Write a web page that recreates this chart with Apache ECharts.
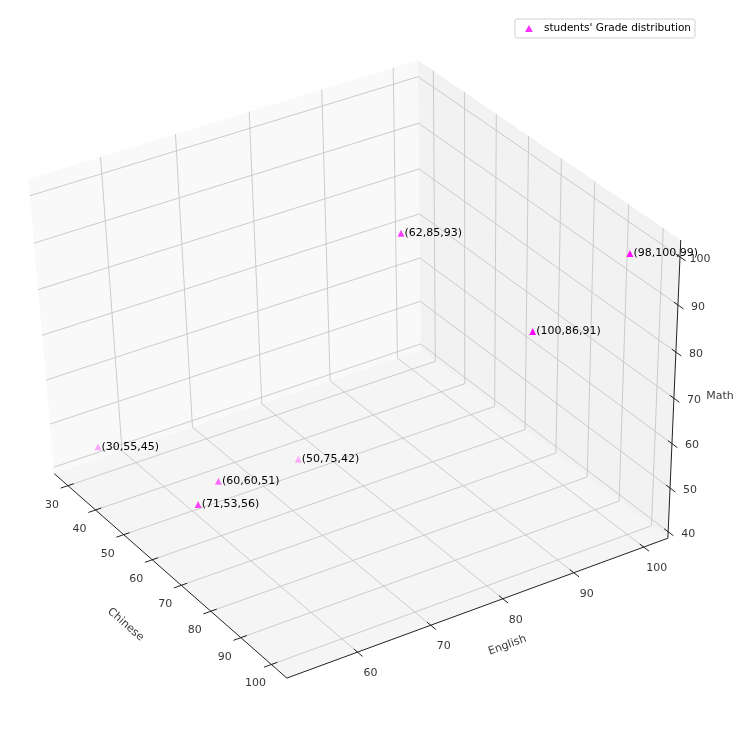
<!DOCTYPE html>
<html>
<head>
<meta charset="utf-8">
<script src="https://cdn.jsdelivr.net/npm/echarts@6/dist/echarts.min.js"></script>
<style>html,body{margin:0;padding:0;background:#fff}#main{width:753px;height:737px}</style>
</head>
<body>
<div id="main"></div>
<script>
// data
const chinese = [30, 60, 71, 50, 62, 100, 98];
const english = [55, 60, 53, 75, 85, 86, 100];
const math = [45, 51, 56, 42, 93, 91, 99];
const chineseTicks = [30, 40, 50, 60, 70, 80, 90, 100];
const englishTicks = [60, 70, 80, 90, 100];
const mathTicks = [40, 50, 60, 70, 80, 90, 100];

// box limits of the 3d axes
const C0 = 25, C1 = 105, E0 = 50.5, E1 = 103.5, M0 = 38.5, M1 = 103.5;

// camera
const el = 38 * Math.PI / 180, phi = 32 * Math.PI / 180, dist = 10;
const w = [Math.cos(el) * Math.cos(phi), -Math.cos(el) * Math.sin(phi), Math.sin(el)];
const u = [Math.sin(phi), Math.cos(phi), 0];
const v = [w[1] * u[2] - w[2] * u[1], w[2] * u[0] - w[0] * u[2], w[0] * u[1] - w[1] * u[0]];
const eye = [0.5 + dist * w[0], 0.5 + dist * w[1], 0.5 + dist * w[2]];
const dot = (a, b) => a[0] * b[0] + a[1] * b[1] + a[2] * b[2];

function raw(c, e, m) {
  const d = [(c - C0) / (C1 - C0) - eye[0], (e - E0) / (E1 - E0) - eye[1], (m - M0) / (M1 - M0) - eye[2]];
  const z = -dot(d, w);
  return [dot(d, u) / z, dot(d, v) / z, z];
}

// calibration of the box corners on the page
const corners = [
  [C0, E0, M1, 35, 178], [C0, E1, M1, 413, 64], [C1, E0, M0, 289, 683],
  [C1, E1, M0, 668, 536], [C1, E1, M1, 683, 238], [C0, E0, M0, 48, 470]
];
function fit(k) {
  const A = [[0, 0, 0], [0, 0, 0], [0, 0, 0]], b = [0, 0, 0];
  corners.forEach(cr => {
    const r = raw(cr[0], cr[1], cr[2]);
    const row = [r[0], r[1], 1];
    for (let i = 0; i < 3; i++) {
      b[i] += row[i] * cr[k];
      for (let j = 0; j < 3; j++) A[i][j] += row[i] * row[j];
    }
  });
  // gaussian elimination
  for (let i = 0; i < 3; i++) {
    for (let r = i + 1; r < 3; r++) {
      const f = A[r][i] / A[i][i];
      for (let j = i; j < 3; j++) A[r][j] -= f * A[i][j];
      b[r] -= f * b[i];
    }
  }
  const x = [0, 0, 0];
  for (let i = 2; i >= 0; i--) {
    let s = b[i];
    for (let j = i + 1; j < 3; j++) s -= A[i][j] * x[j];
    x[i] = s / A[i][i];
  }
  return x;
}
const fx = fit(3), fy = fit(4);
function P(c, e, m) {
  const r = raw(c, e, m);
  return [fx[0] * r[0] + fx[1] * r[1] + fx[2], fy[0] * r[0] + fy[1] * r[1] + fy[2], r[2]];
}

// panes
const panes = [
  { pts: [[C0, E0, M0], [C0, E1, M0], [C0, E1, M1], [C0, E0, M1]], color: '#f9f9f9' },
  { pts: [[C0, E1, M0], [C1, E1, M0], [C1, E1, M1], [C0, E1, M1]], color: '#f2f2f2' },
  { pts: [[C0, E0, M0], [C1, E0, M0], [C1, E1, M0], [C0, E1, M0]], color: '#f5f5f5' }
];
// grid lines
const segs = [];
englishTicks.forEach(t => { segs.push([[C0, t, M0], [C0, t, M1]]); segs.push([[C0, t, M0], [C1, t, M0]]); });
mathTicks.forEach(t => { segs.push([[C0, E0, t], [C0, E1, t]]); segs.push([[C0, E1, t], [C1, E1, t]]); });
chineseTicks.forEach(t => { segs.push([[t, E1, M0], [t, E1, M1]]); segs.push([[t, E0, M0], [t, E1, M0]]); });
// axis lines and tick marks
const axisSegs = [
  [[C0, E0, M0], [C1, E0, M0]], [[C1, E0, M0], [C1, E1, M0]], [[C1, E1, M0], [C1, E1, M1]]
];
chineseTicks.forEach(t => axisSegs.push([[t, E0 - 1, M0], [t, E0 + 0.8, M0]]));
englishTicks.forEach(t => axisSegs.push([[C1 + 1.6, t, M0], [C1 - 1.2, t, M0]]));
mathTicks.forEach(t => axisSegs.push([[C1 + 1.6, E1, t], [C1 - 1.2, E1, t]]));

const toXY = a => P(a[0], a[1], a[2]).slice(0, 2);
const paneData = panes.map(p => p.pts.map(toXY).flat());
const segData = segs.map(s => toXY(s[0]).concat(toXY(s[1])));
const axisData = axisSegs.map(s => toXY(s[0]).concat(toXY(s[1])));

// points with depth shading
const pts = chinese.map((c, i) => P(c, english[i], math[i]));
const zs = pts.map(p => p[2]);
const zmin = Math.min(...zs), zmax = Math.max(...zs);
const pointData = pts.map((p, i) => ({
  value: [p[0], p[1]],
  name: '(' + chinese[i] + ',' + english[i] + ',' + math[i] + ')',
  itemStyle: { opacity: 1 - 0.7 * (p[2] - zmin) / (zmax - zmin) }
}));

const tickLabels = [];
chineseTicks.forEach(t => { const p = toXY([t, E0, M0]); tickLabels.push({ value: p, name: String(t), off: [-16, 19] }); });
englishTicks.forEach(t => { const p = toXY([C1, t, M0]); tickLabels.push({ value: p, name: String(t), off: [13, 21] }); });
mathTicks.forEach(t => { const p = toXY([C1, E1, t]); tickLabels.push({ value: p, name: String(t), off: [20, 2] }); });

const titles = [
  { value: toXY([(C0 + C1) / 2, E0 - 9, M0]), name: 'Chinese', rot: -41, off: [38, 5] },
  { value: toXY([C1 + 9, (E0 + E1) / 2, M0]), name: 'English', rot: 20, off: [-8, 13] },
  { value: toXY([C1 + 9, E1, (M0 + M1) / 2]), name: 'Math', rot: 0, off: [15, -20] }
];

const lineSeries = (data, color, width, z) => ({
  type: 'custom', silent: true, z: z, data: data,
  renderItem: (params, api) => {
    const a = api.coord([api.value(0), api.value(1)]), b = api.coord([api.value(2), api.value(3)]);
    return { type: 'line', shape: { x1: a[0], y1: a[1], x2: b[0], y2: b[1] }, style: { stroke: color, lineWidth: width } };
  }
});
const font = { fontFamily: 'DejaVu Sans', fontSize: 11, color: '#000' };

const chart = echarts.init(document.getElementById('main'));
chart.setOption({
  animation: false,
  grid: { left: 0, right: 0, top: 0, bottom: 0 },
  xAxis: { type: 'value', min: 0, max: 753, show: false },
  yAxis: { type: 'value', min: 0, max: 737, inverse: true, show: false },
  legend: {
    data: ["students' Grade distribution"], right: 58, top: 19, orient: 'vertical',
    icon: 'triangle', itemWidth: 8, itemHeight: 7, itemGap: 0, padding: [4, 4, 4, 10],
    borderColor: '#d0d0d0', borderWidth: 1, borderRadius: 2,
    textStyle: { fontFamily: 'DejaVu Sans', fontSize: 10.5, color: '#000', padding: [0, 0, 0, 6] }
  },
  series: [
    {
      type: 'custom', silent: true, z: 1, data: paneData,
      renderItem: (params, api) => {
        const p = [];
        for (let i = 0; i < 4; i++) p.push(api.coord([api.value(2 * i), api.value(2 * i + 1)]));
        return { type: 'polygon', shape: { points: p }, style: { fill: panes[params.dataIndex].color } };
      }
    },
    lineSeries(segData, '#c6c6c6', 0.9, 2),
    lineSeries(axisData, '#222', 1, 3),
    {
      type: 'scatter', silent: true, z: 4, symbolSize: 0, data: tickLabels,
      label: { show: true, position: 'inside', formatter: p => p.name, ...font },
      labelLayout: p => ({ dx: tickLabels[p.dataIndex].off[0], dy: tickLabels[p.dataIndex].off[1] })
    },
    {
      type: 'scatter', silent: true, z: 4, symbolSize: 0,
      data: titles.map(t => ({ value: t.value, name: t.name, label: { rotate: t.rot } })),
      label: { show: true, position: 'inside', formatter: p => p.name, ...font },
      labelLayout: p => ({ dx: titles[p.dataIndex].off[0], dy: titles[p.dataIndex].off[1] })
    },
    {
      name: "students' Grade distribution", type: 'scatter', z: 5,
      symbol: 'triangle', symbolSize: 7, itemStyle: { color: '#ff00ff' },
      data: pointData,
      label: { show: true, position: 'right', distance: 0, formatter: p => p.name, ...font, opacity: 1 },
      labelLayout: { dx: 0 }
    }
  ]
});
</script>
</body>
</html>
